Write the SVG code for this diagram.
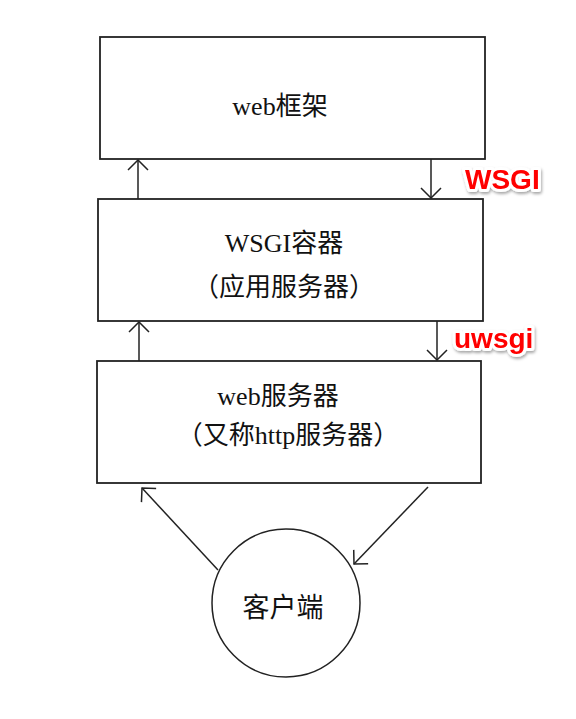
<svg xmlns="http://www.w3.org/2000/svg" width="576" height="719" viewBox="0 0 576 719">
<defs>
<style>
.box{fill:#fff;stroke:#222;stroke-width:1.8}
.lbl{font-family:"Liberation Serif","Noto Sans CJK SC",serif;font-size:26px;fill:#111;text-anchor:middle}
.conn{fill:none;stroke:#222;stroke-width:1.5}
.tag{font-family:"Liberation Sans",Arial,sans-serif;font-weight:bold;font-size:28px;fill:#f00;stroke:#fff;stroke-width:6;stroke-linejoin:round;paint-order:stroke;filter:url(#sh)}
</style>
<marker id="ah" viewBox="0 0 12 22" refX="11" refY="11" markerWidth="12" markerHeight="22" markerUnits="userSpaceOnUse" orient="auto">
<path d="M1,1 L11,11 L1,21" fill="none" stroke="#222" stroke-width="1.5"/>
</marker>
<filter id="sh" x="-20%" y="-30%" width="140%" height="170%">
<feDropShadow dx="1" dy="2" stdDeviation="1.5" flood-color="#000" flood-opacity="0.35"/>
</filter>
</defs>
<rect width="576" height="719" fill="#fff"/>
<g id="connectors">
<line class="conn" x1="138" y1="199" x2="138" y2="160" marker-end="url(#ah)"/>
<line class="conn" x1="431" y1="159" x2="431" y2="198" marker-end="url(#ah)"/>
<line class="conn" x1="139" y1="361" x2="139" y2="322" marker-end="url(#ah)"/>
<line class="conn" x1="437" y1="321" x2="437" y2="360" marker-end="url(#ah)"/>
<line class="conn" x1="218" y1="570" x2="142" y2="488" marker-end="url(#ah)"/>
<line class="conn" x1="428" y1="487" x2="354" y2="564" marker-end="url(#ah)"/>
<text class="tag" x="465" y="189">WSGI</text>
<text class="tag" x="454" y="348">uwsgi</text>
</g>
<g id="web-framework">
<rect class="box" x="100" y="37" width="385" height="122"/>
<text class="lbl" x="280" y="115">web框架</text>
</g>
<g id="wsgi-container">
<rect class="box" x="98" y="199" width="385" height="122"/>
<text class="lbl" x="284" y="252">WSGI容器</text>
<text class="lbl" x="284" y="296">（应用服务器）</text>
</g>
<g id="web-server">
<rect class="box" x="97" y="361" width="384" height="122"/>
<text class="lbl" x="278" y="405">web服务器</text>
<text class="lbl" x="288" y="444">（又称http服务器）</text>
</g>
<g id="client">
<circle cx="286" cy="603" r="74" fill="#fff" stroke="#222" stroke-width="1.5"/>
<text class="lbl" x="283" y="617" style="font-size:27px">客户端</text>
</g>
</svg>
